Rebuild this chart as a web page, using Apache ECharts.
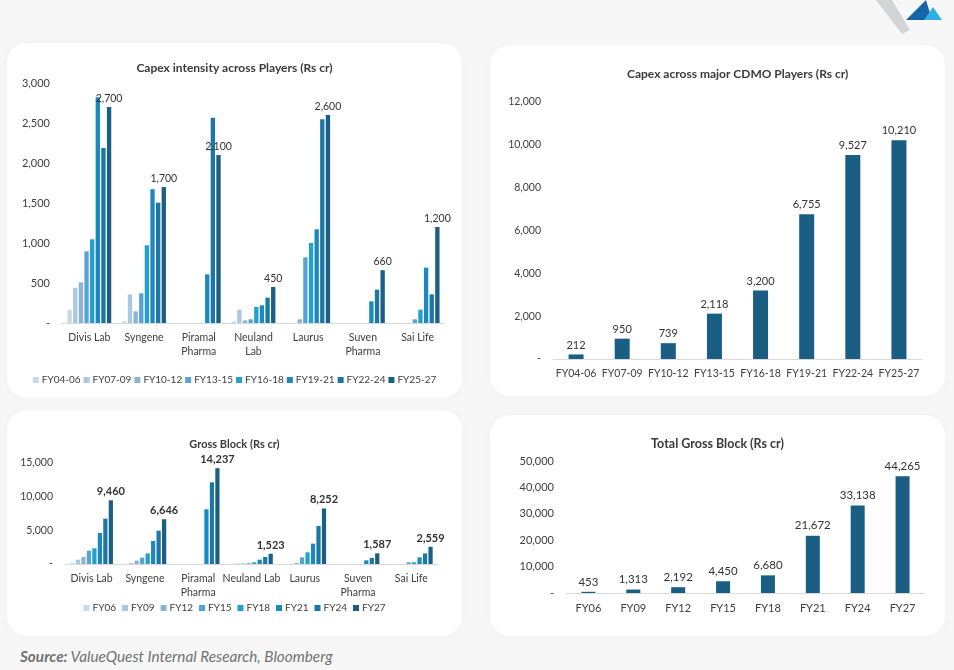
<!DOCTYPE html>
<html>
<head>
<meta charset="utf-8">
<script src="https://cdn.jsdelivr.net/npm/echarts@6/dist/echarts.min.js"></script>
<style>
  html, body { margin: 0; padding: 0; }
  body { width: 954px; height: 670px; background: #f7f7f7; position: relative; overflow: hidden; font-family: Lato, sans-serif; }
  .card { position: absolute; background: #fff; border-radius: 20px; box-shadow: 0 0 6px rgba(0,0,0,0.03); }
  .source { position: absolute; left: 20px; top: 647px; font-size: 15.3px; font-style: italic; color: #727272; }
  .source b { font-weight: 700; }
  .logo { position: absolute; left: 870px; top: 0; }
</style>
</head>
<body>
<svg class="logo" width="84" height="36">
  <polygon points="6,0 22,0 40,30 32,34" fill="#d3d4d6"/>
  <polygon points="36,20 56,0 62,20" fill="#1565a8"/>
  <polygon points="54,20 63,7 72,20" fill="#31aee6"/>
</svg>
<div class="card" id="capexPlayers" style="left:7px;top:43px;width:455px;height:355px"></div>
<div class="card" id="capexTotal" style="left:490px;top:45px;width:455px;height:351px"></div>
<div class="card" id="grossPlayers" style="left:7px;top:410px;width:455px;height:226px"></div>
<div class="card" id="grossTotal" style="left:490px;top:415px;width:455px;height:221px"></div>
<div class="source"><b>Source:</b> ValueQuest Internal Research, Bloomberg</div>
<script>
// ---- data ----
const players = ['Divis Lab', 'Syngene', 'Piramal\nPharma', 'Neuland\nLab', 'Laurus', 'Suven\nPharma', 'Sai Life'];
const playersGross = ['Divis Lab', 'Syngene', 'Piramal\nPharma', 'Neuland Lab', 'Laurus', 'Suven\nPharma', 'Sai Life'];

// capex by period, one value per player
const capexPeriods = ['FY04-06', 'FY07-09', 'FY10-12', 'FY13-15', 'FY16-18', 'FY19-21', 'FY22-24', 'FY25-27'];
const capexFY0406 = [167, 21, 0, 21, 0, 0, 0];
const capexFY0709 = [438, 358, 0, 167, 0, 0, 0];
const capexFY1012 = [508, 146, 0, 33, 46, 0, 0];
const capexFY1315 = [896, 371, 0, 46, 821, 0, 46];
const capexFY1618 = [1046, 971, 0, 200, 1000, 0, 167];
const capexFY1921 = [2821, 1671, 608, 221, 1171, 271, 692];
const capexFY2224 = [2188, 1504, 2567, 317, 2546, 417, 358];
const capexFY2527 = [2700, 1700, 2100, 450, 2600, 660, 1200];

// capex across all CDMO players
const capexTotal = [212, 950, 739, 2118, 3200, 6755, 9527, 10210];

// gross block by year, one value per player
const grossYears = ['FY06', 'FY09', 'FY12', 'FY15', 'FY18', 'FY21', 'FY24', 'FY27'];
const grossFY06 = [150, 60, 0, 30, 0, 0, 0];
const grossFY09 = [640, 150, 0, 60, 0, 0, 0];
const grossFY12 = [1040, 500, 0, 80, 150, 0, 0];
const grossFY15 = [1980, 940, 0, 120, 990, 0, 250];
const grossFY18 = [2330, 1580, 0, 250, 1730, 0, 250];
const grossFY21 = [4600, 3420, 8120, 640, 3020, 545, 990];
const grossFY24 = [6730, 4950, 12130, 1040, 5640, 890, 1580];
const grossFY27 = [9460, 6646, 14237, 1523, 8252, 1587, 2559];

// total gross block
const grossTotal = [453, 1313, 2192, 4450, 6680, 21672, 33138, 44265];

const capexTicks = { max: 3000, interval: 500 };
const capexTotalTicks = { max: 12000, interval: 2000 };
const grossTicks = { max: 15000, interval: 5000 };
const grossTotalTicks = { max: 50000, interval: 10000 };

// ---- styles ----
const blues = ['#c7dae8', '#a8c9e1', '#8cb4d2', '#58a3d6', '#23a0cb', '#1b88c0', '#1a77a6', '#1b5f85'];
const darkBlue = '#1b5e84';
const font = 'Lato, sans-serif';
const txt = '#404040';

function fmt(v) {
  return v === 0 ? '-' : v.toLocaleString('en-US');
}

function groupedChart(id, title, cats, names, rows, ticks, layout) {
  let chart = echarts.init(document.getElementById(id));
  chart.setOption({
    animation: false,
    color: blues,
    textStyle: { fontFamily: font },
    title: {
      text: title, left: 'center', top: layout.titleTop,
      textStyle: { fontSize: layout.titleSize, fontWeight: 'bold', color: '#3a3a3a', fontFamily: font }
    },
    legend: {
      data: names, top: layout.legendTop, left: 'center',
      icon: 'rect', itemWidth: 6, itemHeight: 6, itemGap: layout.legendGap,
      textStyle: { fontSize: 10, color: txt, fontFamily: font, padding: [0, 0, 0, -2] }
    },
    grid: layout.grid,
    xAxis: {
      type: 'category', data: cats,
      axisLine: { lineStyle: { color: '#d9d9d9' } },
      axisTick: { show: false },
      axisLabel: { color: txt, fontSize: 10.5, lineHeight: 14, margin: 8, interval: 0 }
    },
    yAxis: {
      type: 'value', min: 0, max: ticks.max, interval: ticks.interval,
      splitLine: { show: false },
      axisLabel: { color: txt, fontSize: layout.yAxisSize, formatter: fmt, margin: 12 }
    },
    series: rows.map(function (row, i) {
      return {
        name: names[i], type: 'bar', data: row,
        barGap: '30%', barCategoryGap: '20%',
        label: {
          show: i === rows.length - 1, position: 'top', distance: 3,
          color: '#333', fontSize: layout.labelSize, fontWeight: layout.labelWeight,
          formatter: function (p) { return fmt(p.value); }
        }
      };
    })
  });
}

function singleChart(id, title, cats, values, ticks, layout) {
  let chart = echarts.init(document.getElementById(id));
  chart.setOption({
    animation: false,
    textStyle: { fontFamily: font },
    title: {
      text: title, left: layout.titleLeft, top: layout.titleTop,
      textStyle: { fontSize: layout.titleSize, fontWeight: 'bold', color: '#3a3a3a', fontFamily: font }
    },
    grid: layout.grid,
    xAxis: {
      type: 'category', data: cats,
      axisLine: { lineStyle: { color: '#d9d9d9' } },
      axisTick: { show: false },
      axisLabel: { color: txt, fontSize: layout.axisSize, margin: layout.xMargin, interval: 0 }
    },
    yAxis: {
      type: 'value', min: 0, max: ticks.max, interval: ticks.interval,
      splitLine: { show: false },
      axisLabel: { color: txt, fontSize: layout.axisSize, formatter: fmt, margin: 12 }
    },
    series: [{
      type: 'bar', data: values, barWidth: layout.barWidth,
      itemStyle: { color: darkBlue },
      label: {
        show: true, position: 'top', distance: 4,
        color: '#333', fontSize: layout.labelSize,
        formatter: function (p) { return fmt(p.value); }
      }
    }]
  });
}

groupedChart('capexPlayers', 'Capex intensity across Players (Rs cr)', players, capexPeriods,
  [capexFY0406, capexFY0709, capexFY1012, capexFY1315, capexFY1618, capexFY1921, capexFY2224, capexFY2527],
  capexTicks,
  { titleTop: 14, titleSize: 12, legendTop: 327, legendGap: 3, labelSize: 10.5, labelWeight: 'normal', yAxisSize: 11,
    grid: { left: 55, right: 17, top: 40, bottom: 75 } });

singleChart('capexTotal', 'Capex across major CDMO Players (Rs cr)', capexPeriods, capexTotal, capexTotalTicks,
  { titleTop: 18, titleLeft: 132, titleSize: 12, axisSize: 10.5, labelSize: 11, barWidth: 15, xMargin: 9,
    grid: { left: 63, right: 23, top: 57, bottom: 37 } });

groupedChart('grossPlayers', 'Gross Block (Rs cr)', playersGross, grossYears,
  [grossFY06, grossFY09, grossFY12, grossFY15, grossFY18, grossFY21, grossFY24, grossFY27],
  grossTicks,
  { titleTop: 24, titleSize: 11, legendTop: 188, legendGap: 6, labelSize: 11, labelWeight: 'bold', yAxisSize: 10.5,
    grid: { left: 58, right: 24, top: 53, bottom: 72 } });

singleChart('grossTotal', 'Total Gross Block (Rs cr)', grossYears, grossTotal, grossTotalTicks,
  { titleTop: 17, titleLeft: 'center', titleSize: 12.5, axisSize: 11, labelSize: 11.5, barWidth: 14, xMargin: 10,
    grid: { left: 76, right: 20, top: 46, bottom: 43 } });
</script>
</body>
</html>
